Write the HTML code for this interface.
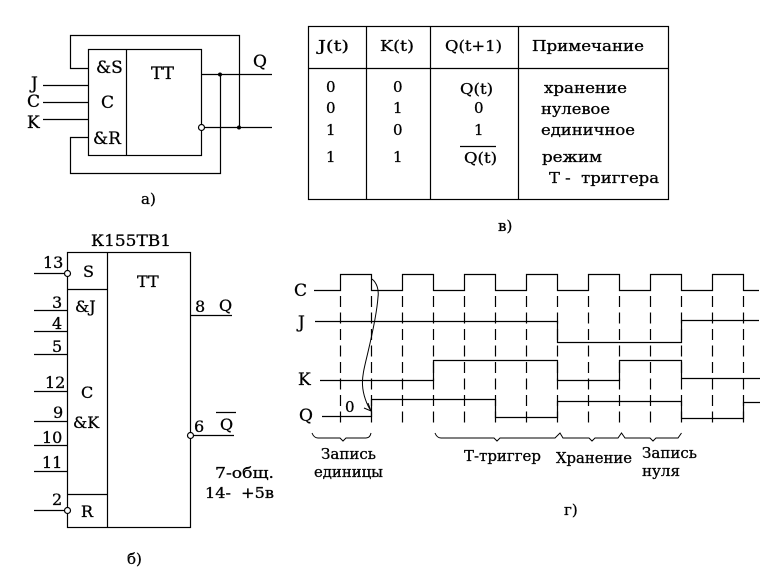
<!DOCTYPE html>
<html><head><meta charset="utf-8"><style>
html,body{margin:0;padding:0;background:#fff}
svg{display:block}
text{font-family:"DejaVu Serif","Liberation Serif",serif;fill:#000;font-size:15px;stroke:#000;stroke-width:.3px}
.l{font-size:17px}
.m{font-size:16px}
</style></head><body>
<svg width="765" height="570" viewBox="0 0 765 570" xmlns="http://www.w3.org/2000/svg">
<g fill="none" stroke="#000" stroke-width="1.2">
<!-- a -->
<rect x="88.5" y="49.5" width="113" height="106"/>
<path d="M126.5,49.5V155.5"/>
<path d="M88,68.5H70.5V35.5H239.5V127"/>
<path d="M88,137.5H70.5V173.5H220.5V74"/>
<path d="M201,74.5H272M204,127.5H272"/>
<path d="M43,85.5H88M43,102.5H88M43,119.5H88"/>
<circle cx="201.5" cy="127.5" r="3" fill="#fff"/>
<!-- table -->
<rect x="308.5" y="26.5" width="360" height="173"/>
<path d="M308.5,68.5H668.5M366.5,26.5V199.5M430.5,26.5V199.5M518.5,26.5V199.5"/>
<path d="M460,146.5H496"/>
<!-- b -->
<rect x="67.5" y="252.5" width="123" height="275"/>
<path d="M107.5,252.5V527.5M67.5,289.5H107.5M67.5,494.5H107.5"/>
<path d="M34,273.5H64M34,310.5H67M34,331.5H67M34,354.5H67M34,391.5H67M34,421.5H67M34,445.5H67M34,471.5H67M34,510.5H64"/>
<path d="M190,315.5H232M193,435.5H234M216,412.5H236"/>
<circle cx="67.5" cy="273.5" r="3" fill="#fff"/>
<circle cx="67.5" cy="510.5" r="3" fill="#fff"/>
<circle cx="190.5" cy="435.5" r="3" fill="#fff"/>
<!-- waveforms -->
<path d="M314,290.5H340.5V274.5H371.5V290.5H402.5V274.5H433.5V290.5H464.5V274.5H495.5V290.5H526.5V274.5H557.5V290.5H588.5V274.5H619.5V290.5H650.5V274.5H681.5V290.5H712.5V274.5H743.5V290.5H759"/>
<path d="M315,321.5H557.5V342.5H681.5V320.5H759"/>
<path d="M320,380.5H433.5V360.5H557.5V380.5H619.5V360.5H681.5V378.5H760"/>
<path d="M322,416.5H371.5V399.5H495.5V417.5H557.5V401.5H681.5V418.5H743.5V402.5H760"/>
<g stroke-dasharray="11 5.5">
<path d="M340.5,296V425M371.5,296V425M402.5,296V425M433.5,296V425M464.5,296V425M495.5,296V425M526.5,296V425M557.5,296V425M588.5,296V425M619.5,296V425M650.5,296V425M681.5,296V425M712.5,296V425M743.5,296V425"/>
</g>
<g stroke-width="1">
<path d="M372,279C377,283 379,290 378,297C377,312 372,335 368,352C365,365 362,375 362.5,385C363,395 367,405 371,411"/>
<path d="M364,408L371,411L368,403"/>
<path d="M312,433Q314,438 318,438H340L343,441L346,438H366Q370,438 371,433"/>
<path d="M435,433Q437,438 441,438H494L497,441L500,438H555L560,433L563,438H589L592,441L595,438H618L621.5,433L625,438H650L653,441L656,438H678L681.5,433"/>
</g>
</g>
<g fill="#000"><circle cx="220" cy="74.5" r="2"/><circle cx="239" cy="127.5" r="2"/></g>

<!-- a labels -->
<text class="l" x="96" y="73">&amp;S</text>
<text class="l" x="151" y="79">TT</text>
<text class="l" x="253" y="67">Q</text>
<text class="l" x="31" y="89">J</text>
<text class="l" x="27" y="107">C</text>
<text class="l" x="27" y="128">K</text>
<text class="l" x="101" y="108">C</text>
<text class="l" x="93" y="144">&amp;R</text>
<text x="141" y="204">а)</text>

<!-- table labels -->
<text x="318" y="51" textLength="31" lengthAdjust="spacingAndGlyphs">J(t)</text>
<text x="380" y="51" textLength="34" lengthAdjust="spacingAndGlyphs">K(t)</text>
<text x="445" y="51" textLength="57" lengthAdjust="spacingAndGlyphs">Q(t+1)</text>
<text x="532" y="51" textLength="112" lengthAdjust="spacingAndGlyphs">Примечание</text>
<text x="326" y="92">0</text><text x="326" y="113">0</text><text x="326" y="135">1</text><text x="326" y="162">1</text>
<text x="393" y="92">0</text><text x="393" y="113">1</text><text x="393" y="135">0</text><text x="393" y="162">1</text>
<text x="460" y="94" textLength="33" lengthAdjust="spacingAndGlyphs">Q(t)</text>
<text x="474" y="113">0</text><text x="474" y="135">1</text>
<text x="464" y="163" textLength="33" lengthAdjust="spacingAndGlyphs">Q(t)</text>
<text x="544" y="93" textLength="83" lengthAdjust="spacingAndGlyphs">хранение</text>
<text x="541" y="114" textLength="69" lengthAdjust="spacingAndGlyphs">нулевое</text>
<text x="541" y="135" textLength="94" lengthAdjust="spacingAndGlyphs">единичное</text>
<text x="542" y="162" textLength="60" lengthAdjust="spacingAndGlyphs">режим</text>
<text x="549" y="183" textLength="110" lengthAdjust="spacingAndGlyphs" xml:space="preserve">Т -  триггера</text>
<text x="498" y="231">в)</text>

<!-- b labels -->
<text class="m" x="91" y="246" textLength="80" lengthAdjust="spacingAndGlyphs">К155ТВ1</text>
<text class="m" x="83" y="277">S</text>
<text class="m" x="137" y="287">TT</text>
<text class="m" x="43" y="268">13</text>
<text class="m" x="52" y="308">3</text>
<text class="m" x="52" y="329">4</text>
<text class="m" x="52" y="352">5</text>
<text class="m" x="45" y="388">12</text>
<text class="m" x="53" y="418">9</text>
<text class="m" x="42" y="443">10</text>
<text class="m" x="42" y="468">11</text>
<text class="m" x="52" y="505">2</text>
<text class="m" x="75" y="312">&amp;J</text>
<text class="m" x="81" y="398">C</text>
<text class="m" x="73" y="428">&amp;K</text>
<text class="m" x="81" y="517">R</text>
<text class="m" x="195" y="312">8</text>
<text class="m" x="219" y="311">Q</text>
<text class="m" x="194" y="432">6</text>
<text class="m" x="220" y="430">Q</text>
<text x="215" y="478" textLength="59" lengthAdjust="spacingAndGlyphs">7-общ.</text>
<text x="205" y="498" textLength="69" lengthAdjust="spacingAndGlyphs" xml:space="preserve">14-  +5в</text>
<text x="127" y="564">б)</text>

<!-- g labels -->
<text class="l" x="294" y="296">C</text>
<text class="l" x="298" y="328">J</text>
<text class="l" x="298" y="385">K</text>
<text class="l" x="299" y="421">Q</text>
<text x="345" y="412">0</text>
<text x="321" y="459" textLength="55" lengthAdjust="spacingAndGlyphs">Запись</text>
<text x="314" y="477" textLength="69" lengthAdjust="spacingAndGlyphs">единицы</text>
<text x="464" y="461" textLength="77" lengthAdjust="spacingAndGlyphs">Т-триггер</text>
<text x="556" y="463" textLength="76" lengthAdjust="spacingAndGlyphs">Хранение</text>
<text x="642" y="458" textLength="55" lengthAdjust="spacingAndGlyphs">Запись</text>
<text x="642" y="476" textLength="38" lengthAdjust="spacingAndGlyphs">нуля</text>
<text x="564" y="515">г)</text>
</svg>
</body></html>
